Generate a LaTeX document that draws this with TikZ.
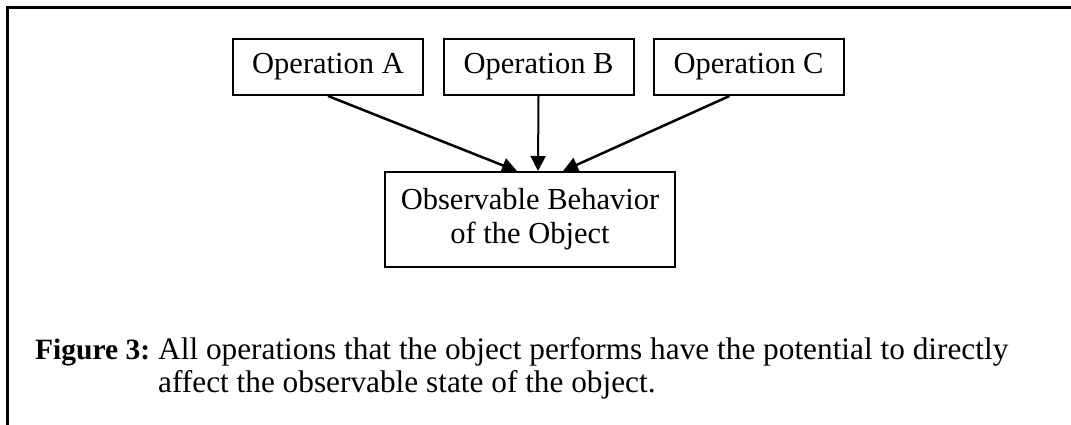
\documentclass[tikz,border=0pt]{standalone}
\usepackage{fontspec}
\setmainfont{Liberation Serif}
\usetikzlibrary{arrows.meta}

\tikzset{
  opbox/.style={draw, line width=2pt, minimum width=190pt, minimum height=56pt,
    inner sep=0pt, font=\fontsize{30.5pt}{34pt}\selectfont},
  flow/.style={line width=2.5pt, -{Triangle[length=15pt,width=15pt]}},
  captext/.style={anchor=base west, inner sep=0pt, font=\fontsize{31.3pt}{34pt}\selectfont},
  frame/.style={line width=3pt}
}

\begin{document}
\begin{tikzpicture}[x=1pt, y=-1pt]
  \useasboundingbox (0,0) rectangle (1071,425);

  % open frame: top rule and left rule only
  \coordinate (ftl) at (7,8);
  \coordinate (ftr) at (1071,8);
  \coordinate (fbl) at (7,425);
  \draw[frame] (ftr) -- (ftl) -- (fbl);

  % operations
  \node[opbox] (opA) at (328,67)   {Operation A};
  \node[opbox] (opB) at (538.5,67) {Operation B};
  \node[opbox] (opC) at (748.5,67) {Operation C};

  % resulting behavior
  \node[opbox, minimum width=290pt, minimum height=95pt, align=center]
    (obs) at (530,219.5) {Observable Behavior\\of the Object};

  % every operation feeds the observable behavior
  \draw[flow] (opA.south) -- ([xshift=-13pt]obs.north);
  \draw[flow, line width=2pt] (opB.south) -- ([xshift=8pt]obs.north);
  \draw[flow] ([xshift=-19pt]opC.south) -- ([xshift=33pt]obs.north);

  % caption with hanging indent
  \node[captext, font=\fontsize{29.5pt}{34pt}\selectfont\bfseries] (figlabel) at (35,359) {Figure 3:};
  \node[captext] (capline1) at (158,359) {All operations that the object performs have the potential to directly};
  \node[captext] (capline2) at (158,392) {affect the observable state of the object.};
\end{tikzpicture}
\end{document}
